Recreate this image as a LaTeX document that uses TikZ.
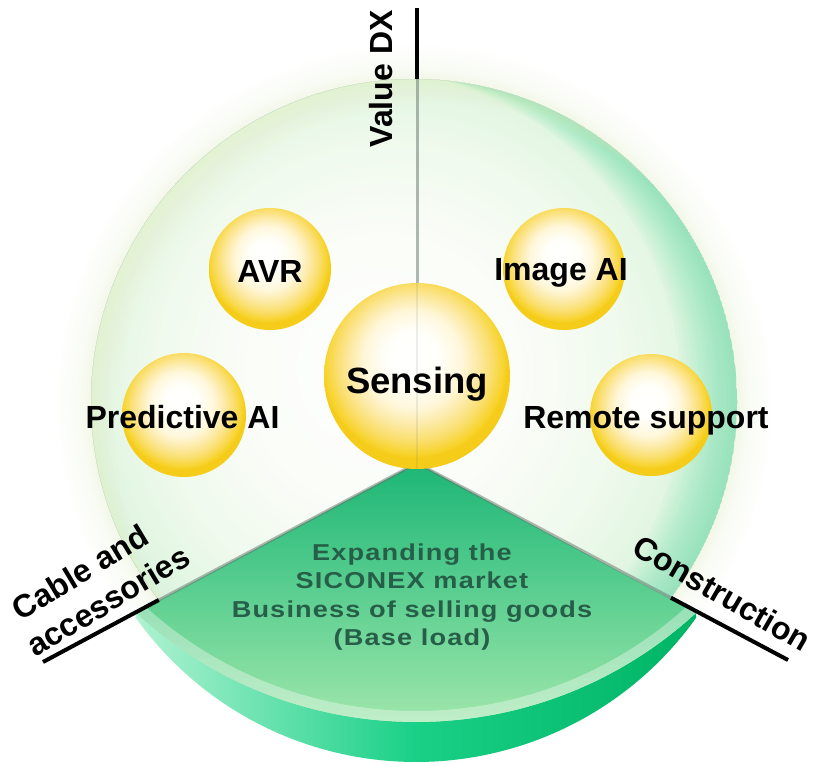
\documentclass[tikz,border=0pt]{standalone}
\usepackage{fontspec}
\setmainfont{Liberation Sans}
\newfontfamily\widefont[FakeStretch=1.18,LetterSpace=5]{Liberation Sans}
\usetikzlibrary{calc}
\definecolor{facetop}{RGB}{28,182,118}
\definecolor{facemid}{RGB}{100,210,148}
\definecolor{facebot}{RGB}{178,236,178}
\definecolor{rimleft}{RGB}{175,242,210}
\definecolor{rimmid}{RGB}{25,208,135}
\definecolor{rimright}{RGB}{0,180,100}
\definecolor{inktext}{RGB}{38,94,72}
\definecolor{axisgrey}{RGB}{100,115,105}
\definecolor{mintband}{RGB}{100,222,168}
\definecolor{paleyel}{RGB}{235,242,190}
\pgfdeclareradialshading{discsh}{\pgfpoint{-3bp}{3bp}}{rgb(0bp)=(1,1,1); rgb(11bp)=(0.98,0.99,0.97); rgb(18bp)=(0.94,0.98,0.93); rgb(22.5bp)=(0.89,0.965,0.89); rgb(25bp)=(0.85,0.95,0.87); rgb(50bp)=(0.85,0.95,0.87)}
\pgfdeclareradialshading{glowsh}{\pgfpointorigin}{rgb(0bp)=(0.95,0.97,0.91); rgb(22.4bp)=(0.95,0.97,0.91); rgb(23.2bp)=(0.975,0.985,0.955); rgb(25bp)=(1,1,1); rgb(50bp)=(1,1,1)}
\pgfdeclareradialshading{ballsh}{\pgfpoint{-1.5bp}{6bp}}{rgb(0bp)=(1,1,1); rgb(7bp)=(1,1,0.98); rgb(13bp)=(1,0.97,0.86); rgb(17bp)=(0.99,0.92,0.66); rgb(21bp)=(0.98,0.87,0.42); rgb(24bp)=(0.97,0.83,0.18); rgb(25bp)=(0.96,0.80,0.10); rgb(50bp)=(0.96,0.80,0.10)}
\begin{document}
\begin{tikzpicture}[x=1pt,y=-1pt,
  ball/.style={circle, inner sep=0pt, shade, shading=ballsh, draw=none},
  lbl/.style={font=\fontsize{32}{38}\selectfont\bfseries, anchor=base, inner sep=0pt},
  sidelbl/.style={font=\fontsize{32}{39}\selectfont\bfseries, inner sep=0pt},
  axisin/.style={draw=axisgrey, line width=3pt, opacity=0.5},
  axisout/.style={draw=black, line width=4pt}]
\useasboundingbox (0,0) rectangle (818,763);
\coordinate (C) at (414,402);
\coordinate (P) at (416,308);
\coordinate (Q) at (416,417.8);
\coordinate (apex) at (417,463);
\coordinate (topEnd) at (417,8);
\coordinate (dT) at (417,79);
\coordinate (eL) at (43,662);
\coordinate (eR) at (788,660);
\coordinate (dL) at ($(C)+(142.2:323)$);
\coordinate (dR) at ($(C)+(37.3:323)$);
\coordinate (pL) at ($(P)+(132.6:414)$);
\coordinate (pR) at ($(P)+(47.4:414)$);
\coordinate (qR) at ($(Q)+(35.5:344.2)$);
% glow and disc
\shade[shading=glowsh] (C) circle (360);
\shade[shading=discsh] (C) circle (323);
\begin{scope}
  \clip (C) circle (323);
  \foreach \k in {1,...,16}{
    \fill[mintband, opacity=0.045, even odd rule] (C) circle (323) ($(C)+(-3.5*\k,-0.6*\k)$) circle (323);
  }
  \foreach \k in {1,...,8}{
    \fill[paleyel, opacity=0.05, even odd rule] (C) circle (323) ($(C)+(3*\k,3*\k)$) circle (323);
  }
\end{scope}
% raised sector
\shade[left color=rimleft, right color=rimright, middle color=rimmid]
  (pL) arc[start angle=132.6, end angle=47.4, radius=414] -- (qR)
  arc[start angle=35.5, end angle=144.5, radius=344.2] -- cycle;
\shade[top color=facetop, bottom color=facebot, middle color=facemid]
  (apex) -- (pL) arc[start angle=132.6, end angle=47.4, radius=414] -- cycle;
\begin{scope}
  \clip (apex) -- (pL) arc[start angle=132.6, end angle=47.4, radius=414] -- cycle;
  \draw[white, opacity=0.35, line width=22pt] (pL) arc[start angle=132.6, end angle=47.4, radius=414];
\end{scope}
% axes
\draw[axisin] (dT) -- (apex);
\draw[axisin] (apex) -- (dL);
\draw[axisin] (apex) -- (dR);
\draw[axisout] (topEnd) -- (dT);
\draw[axisout] (dL) -- (eL);
\draw[axisout] (dR) -- (eR);
% spheres
\node[ball, minimum size=122pt] (avr) at (270,269) {};
\node[ball, minimum size=122pt] (img) at (564,269) {};
\node[ball, minimum size=124pt] (pred) at (184,415) {};
\node[ball, minimum size=122pt] (remote) at (651,415) {};
\node[ball, minimum size=186pt] (sens) at (417,376) {};
\draw[axisgrey, opacity=0.12, line width=1.5pt] (sens.north) -- (sens.south);
% labels
\node[lbl] (avrT) at (270,282) {AVR};
\node[lbl] (imgT) at (561,280) {Image AI};
\node[lbl] (predT) at (182.5,428) {Predictive AI};
\node[lbl] (remoteT) at (646,428) {Remote support};
\node[lbl, font=\fontsize{36.5}{42}\selectfont\bfseries] (sensT) at (417,393) {Sensing};
\node[sidelbl, rotate=90, anchor=base] (vdx) at (392,79) {Value DX};
\node[sidelbl, rotate=-30] (cons) at (722,593) {Construction};
\node[sidelbl, rotate=31, align=left] (cable) at (98,584) {\hspace*{6pt}Cable and\\accessories};
\node[text=inktext, font=\widefont\fontsize{23}{28.6}\selectfont\bfseries, align=center] (baseT) at (412,597) {Expanding the\\SICONEX market\\Business of selling goods\\(Base load)};
\end{tikzpicture}
\end{document}
